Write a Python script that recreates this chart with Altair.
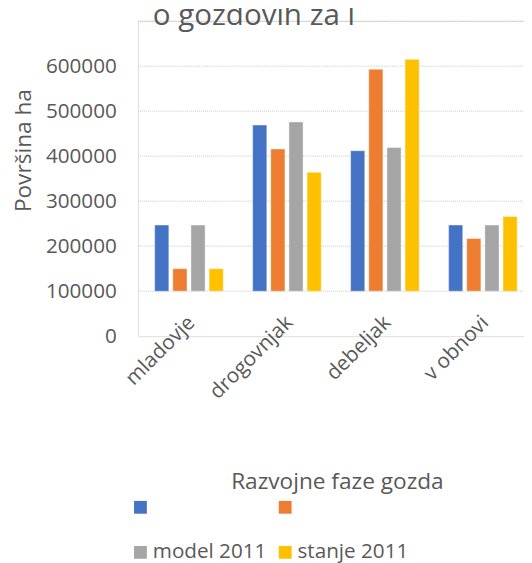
import altair as alt
import pandas as pd

categories = ["mladovje", "drogovnjak", "debeljak", "v obnovi"]
series = ["serija 1", "serija 2", "model 2011", "stanje 2011"]
colors = ["#4472c4", "#ed7d31", "#a5a5a5", "#ffc000"]
values_s1 = [247000, 469000, 412000, 247000]
values_s2 = [150000, 416000, 593000, 217000]
values_model = [247000, 476000, 419000, 247000]
values_stanje = [150000, 364000, 615000, 266000]
shown_labels = ["model 2011", "stanje 2011"]
y_ticks = [0, 100000, 200000, 300000, 400000, 500000, 600000]
grid_values = [100000, 200000, 300000, 400000, 500000, 600000, 700000]
bar_base = 100000
title_text = ["o gozdovih za l"]

rows = []
for s, vals in zip(series, [values_s1, values_s2, values_model, values_stanje]):
    for c, v in zip(categories, vals):
        rows.append({"faza": c, "serija": s, "vrednost": v})
df = pd.DataFrame(rows)

TXT = "#595959"
FONT = "Open Sans"
W, H = 392, 320

yscale = alt.Scale(domain=[0, 700000], nice=False, zero=True)

grid = alt.Chart(pd.DataFrame({"g": grid_values})).mark_rule(
    color="#c8c8c8", strokeWidth=1, strokeDash=[1, 1]
).encode(
    y=alt.Y("g:Q", scale=yscale),
    x=alt.value(0),
    x2=alt.value(W),
)

label_expr = "indexof(" + str(shown_labels) + ", datum.label) >= 0 ? datum.label : ''"

bars = alt.Chart(df).mark_bar(stroke="#ffffff", strokeWidth=0.6, strokeOpacity=0.7).encode(
    x=alt.X(
        "faza:N",
        sort=categories,
        scale=alt.Scale(paddingInner=0.3, paddingOuter=0.12, align=0.71),
        axis=alt.Axis(
            title="Razvojne faze gozda",
            labelAngle=-45,
            labelAlign="right",
            labelBaseline="top",
            labelPadding=-25,
            labelOffset=-5,
            ticks=False,
            domain=False,
            labelFontSize=21,
            labelColor=TXT,
            labelFont=FONT,
            titleFontSize=23,
            titleFontWeight="normal",
            titleColor=TXT,
            titleFont=FONT,
            titleX=202,
            titleY=148,
            titleAlign="center",
            titleBaseline="middle",
        ),
    ),
    xOffset=alt.XOffset("serija:N", sort=series, scale=alt.Scale(paddingInner=0.22)),
    y=alt.Y(
        "vrednost:Q",
        scale=yscale,
        axis=alt.Axis(
            values=y_ticks,
            format="d",
            grid=False,
            ticks=False,
            domain=False,
            labelPadding=22,
            labelFontSize=21,
            labelColor=TXT,
            labelFont=FONT,
            labelBaseline="middle",
            title="Površina ha",
            titleFontSize=23,
            titleFontWeight="normal",
            titleColor=TXT,
            titleFont=FONT,
            titleX=-116,
            titleY=131,
            titleAlign="center",
            titleBaseline="middle",
        ),
    ),
    y2=alt.datum(bar_base),
    color=alt.Color(
        "serija:N",
        sort=series,
        scale=alt.Scale(domain=series, range=colors),
        legend=alt.Legend(
            title=None,
            orient="none",
            direction="horizontal",
            legendX=-8,
            legendY=483,
            columns=2,
            symbolType="square",
            symbolSize=169,
            symbolStrokeWidth=0,
            labelFontSize=21,
            labelColor=TXT,
            labelFont=FONT,
            rowPadding=24,
            columnPadding=8,
            labelOffset=2,
            padding=0,
            labelExpr=label_expr,
        ),
    ),
)

title = alt.Chart(pd.DataFrame({"t": title_text})).mark_text(
    align="left", baseline="alphabetic", fontSize=30, color=TXT, font=FONT
).encode(
    x=alt.value(15),
    y=alt.value(4),
    text="t:N",
)

chart = alt.layer(grid, bars, title).properties(
    width=W,
    height=H,
    autosize=alt.AutoSizeParams(type="none"),
    padding={"left": 132, "top": 9, "right": 0, "bottom": 226},
).configure_view(stroke=None).configure(font=FONT)

chart.save("out.html", embed_options={"renderer": "svg", "actions": False})
